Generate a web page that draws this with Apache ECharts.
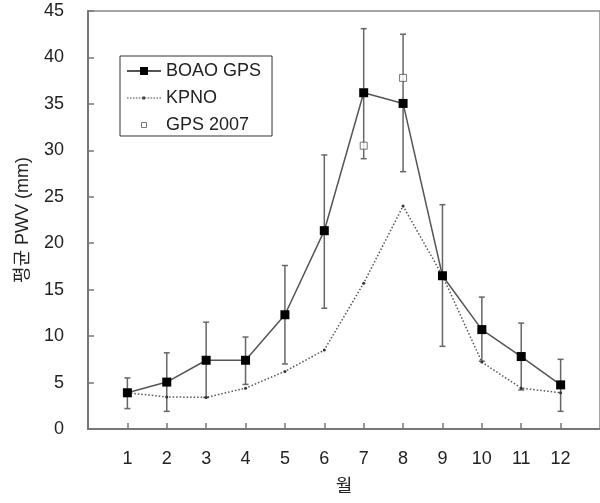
<!DOCTYPE html>
<html>
<head>
<meta charset="utf-8">
<style>html,body{margin:0;padding:0;background:#fff}#chart{width:600px;height:503px}</style>
<script src="https://cdn.jsdelivr.net/npm/echarts@6/dist/echarts.min.js"></script>
</head>
<body>
<div id="chart"></div>
<script>
const months = [1,2,3,4,5,6,7,8,9,10,11,12];
const boao = [3.9, 5.05, 7.4, 7.4, 12.3, 21.35, 36.2, 35.05, 16.5, 10.7, 7.8, 4.75];
const boaoHigh = [5.5, 8.2, 11.5, 9.9, 17.6, 29.5, 43.1, 42.5, 24.15, 14.2, 11.4, 7.5];
const boaoLow = [2.2, 1.9, 3.4, 4.8, 7.0, 13.0, 29.1, 27.7, 8.9, 7.3, 4.2, 1.9];
const kpno = [3.9, 3.45, 3.4, 4.4, 6.2, 8.5, 15.7, 24.0, 16.5, 7.2, 4.4, 3.9];
const gps2007Months = [7, 8];
const gps2007 = [30.5, 37.8];
const yTicks = [0,5,10,15,20,25,30,35,40,45];

const FONT = "'Liberation Sans', Arial, 'Noto Sans CJK KR', sans-serif";
const TXT = '#222';

// legend icons (34 x 10 box)
let kpnoIcon = 'path://M0,0 M34,10';
for (let x = 0; x < 34; x += 3) kpnoIcon += ' M' + x + ',4.4 h1.6 v1.2 h-1.6 Z';
kpnoIcon += ' M15.6,3.6 h2.8 v2.8 h-2.8 Z';
const gpsIcon = 'path://M0,0 M34,10 M14.5,2.5 h5 v5 h-5 Z';

const chart = echarts.init(document.getElementById('chart'), null, {renderer:'canvas'});
chart.setOption({
  animation: false,
  backgroundColor: '#fff',
  grid: {left: 88, top: 11, right: -10, bottom: 74, show: true, borderColor: '#888', borderWidth: 1.5},
  xAxis: {
    type: 'value', min: 0, max: 13, interval: 1,
    axisLine: {lineStyle: {color: '#777', width: 2}},
    axisTick: {inside: true, length: 6, lineStyle: {color: '#777', width: 1.5}, customValues: months},
    axisLabel: {fontSize: 18, color: TXT, fontFamily: FONT, margin: 21, customValues: months},
    splitLine: {show: false},
    name: '월', nameLocation: 'middle', nameGap: 49,
    nameTextStyle: {fontSize: 18, color: TXT, fontFamily: FONT}
  },
  yAxis: {
    type: 'value', min: 0, max: 45, interval: 5,
    axisLine: {show: true, lineStyle: {color: '#777', width: 2}},
    axisTick: {show: true, inside: true, length: 6, lineStyle: {color: '#777', width: 1.5}},
    axisLabel: {fontSize: 18, color: TXT, fontFamily: FONT, margin: 24,
      formatter: v => yTicks.includes(v) ? String(v) : ''},
    splitLine: {show: false},
    name: '평균 PWV (mm)', nameLocation: 'middle', nameGap: 56, nameRotate: 90,
    nameTextStyle: {fontSize: 18, color: TXT, fontFamily: FONT}
  },
  legend: {
    orient: 'vertical', left: 120, top: 56,
    padding: [6, 11, 2, 6], itemGap: 9, itemWidth: 34, itemHeight: 10,
    borderColor: '#333', borderWidth: 1, backgroundColor: '#fff',
    textStyle: {fontSize: 18, color: TXT, fontFamily: FONT},
    data: [
      {name: 'BOAO GPS'},
      {name: 'KPNO', icon: kpnoIcon, itemStyle: {color: '#444', borderWidth: 0}},
      {name: 'GPS 2007', icon: gpsIcon, itemStyle: {color: '#fff', borderColor: '#555', borderWidth: 1}}
    ]
  },
  series: [
    {
      type: 'custom', name: 'err', silent: true, z: 1,
      data: months.map((m, i) => [m, boaoLow[i], boaoHigh[i]]),
      renderItem: function (params, api) {
        const lo = api.coord([api.value(0), api.value(1)]);
        const hi = api.coord([api.value(0), api.value(2)]);
        const w = 3;
        const st = {stroke: '#666', lineWidth: 1.5};
        return {type: 'group', children: [
          {type: 'line', shape: {x1: lo[0], y1: lo[1], x2: hi[0], y2: hi[1]}, style: st},
          {type: 'line', shape: {x1: lo[0]-w, y1: lo[1], x2: lo[0]+w, y2: lo[1]}, style: st},
          {type: 'line', shape: {x1: hi[0]-w, y1: hi[1], x2: hi[0]+w, y2: hi[1]}, style: st}
        ]};
      }
    },
    {
      type: 'line', name: 'KPNO', z: 2,
      data: months.map((m, i) => [m, kpno[i]]),
      symbol: 'circle', symbolSize: 3,
      lineStyle: {color: '#555', width: 1.5, type: [1.5, 2]},
      itemStyle: {color: '#333'}
    },
    {
      type: 'line', name: 'BOAO GPS', z: 3,
      data: months.map((m, i) => [m, boao[i]]),
      symbol: 'rect', symbolSize: 9,
      lineStyle: {color: '#555', width: 1.5},
      itemStyle: {color: '#000'}
    },
    {
      type: 'scatter', name: 'GPS 2007', z: 4,
      data: gps2007Months.map((m, i) => [m, gps2007[i]]),
      symbol: 'rect', symbolSize: 7,
      itemStyle: {color: '#fff', borderColor: '#555', borderWidth: 1}
    }
  ]
});
</script>
</body>
</html>
